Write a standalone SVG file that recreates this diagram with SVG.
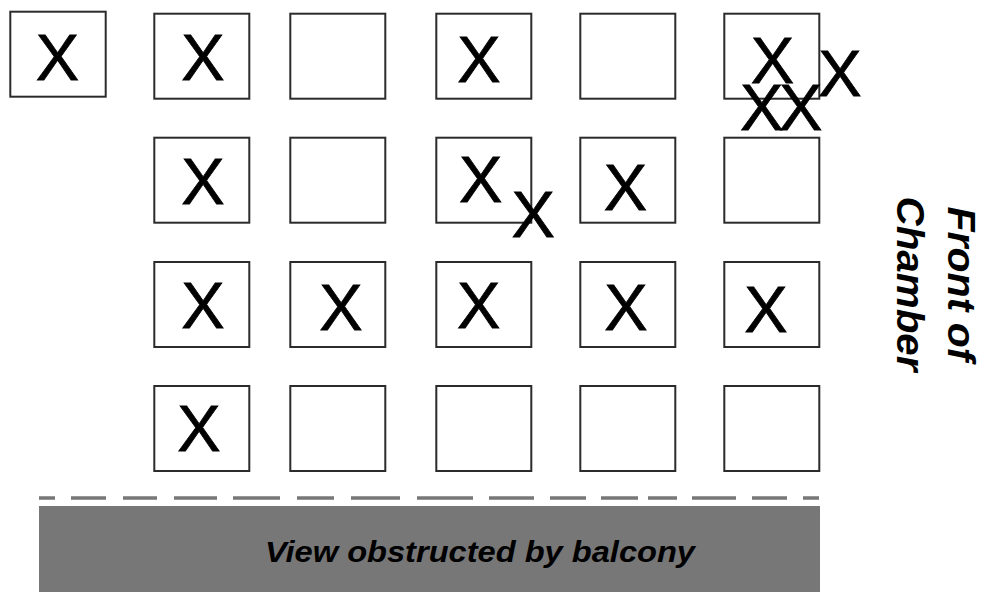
<svg xmlns="http://www.w3.org/2000/svg" width="982" height="592" viewBox="0 0 982 592">
<style>
.seat{fill:#fff;stroke:#2b2b2b;stroke-width:2}
.x{font-family:"Liberation Sans",Arial,sans-serif;font-size:65px;fill:#000;stroke:#000;stroke-width:0.8;text-anchor:middle}
.lbl{font-family:"Liberation Sans",Arial,sans-serif;font-weight:bold;font-style:italic;fill:#000;text-anchor:middle}
.dash{stroke:#777;stroke-width:3.5}
</style>
<rect width="982" height="592" fill="#fff"/>
<g id="seat-0"><rect class="seat" x="10.3" y="11.7" width="95.4" height="85"/><text class="x" x="57.5" y="80">X</text></g>
<g id="seat-r1c1"><rect class="seat" x="154.3" y="13.7" width="95" height="85"/><text class="x" x="203" y="80">X</text></g>
<g id="seat-r1c2"><rect class="seat" x="290.3" y="13.7" width="95" height="85"/></g>
<g id="seat-r1c3"><rect class="seat" x="436.3" y="13.7" width="95" height="85"/><text class="x" x="479" y="82">X</text></g>
<g id="seat-r1c4"><rect class="seat" x="580.3" y="13.7" width="95" height="85"/></g>
<g id="seat-r1c5"><rect class="seat" x="724.3" y="13.7" width="95" height="85"/><text class="x" x="772.5" y="83.3">X</text><text class="x" x="840" y="96">X</text><text class="x" x="761.7" y="130">X</text><text class="x" x="800.8" y="130">X</text></g>
<g id="seat-r2c1"><rect class="seat" x="154.3" y="137.7" width="95" height="85"/><text class="x" x="203" y="204">X</text></g>
<g id="seat-r2c2"><rect class="seat" x="290.3" y="137.7" width="95" height="85"/></g>
<g id="seat-r2c3"><rect class="seat" x="436.3" y="137.7" width="95" height="85"/><text class="x" x="480.8" y="201.7">X</text><text class="x" x="533.3" y="237.3">X</text></g>
<g id="seat-r2c4"><rect class="seat" x="580.3" y="137.7" width="95" height="85"/><text class="x" x="625.5" y="210">X</text></g>
<g id="seat-r2c5"><rect class="seat" x="724.3" y="137.7" width="95" height="85"/></g>
<g id="seat-r3c1"><rect class="seat" x="154.3" y="262" width="95" height="85"/><text class="x" x="203" y="328">X</text></g>
<g id="seat-r3c2"><rect class="seat" x="290.3" y="262" width="95" height="85"/><text class="x" x="341" y="330">X</text></g>
<g id="seat-r3c3"><rect class="seat" x="436.3" y="262" width="95" height="85"/><text class="x" x="478.8" y="328">X</text></g>
<g id="seat-r3c4"><rect class="seat" x="580.3" y="262" width="95" height="85"/><text class="x" x="626" y="330">X</text></g>
<g id="seat-r3c5"><rect class="seat" x="724.3" y="262" width="95" height="85"/><text class="x" x="766" y="331.7">X</text></g>
<g id="seat-r4c1"><rect class="seat" x="154.3" y="386" width="95" height="85"/><text class="x" x="199" y="451">X</text></g>
<g id="seat-r4c2"><rect class="seat" x="290.3" y="386" width="95" height="85"/></g>
<g id="seat-r4c3"><rect class="seat" x="436.3" y="386" width="95" height="85"/></g>
<g id="seat-r4c4"><rect class="seat" x="580.3" y="386" width="95" height="85"/></g>
<g id="seat-r4c5"><rect class="seat" x="724.3" y="386" width="95" height="85"/></g>
<g id="front-label" transform="translate(948,284) rotate(90)">
<text class="lbl" x="0" y="0" font-size="38" textLength="155" lengthAdjust="spacingAndGlyphs">Front of</text>
<text class="lbl" x="0" y="51" font-size="38" textLength="175" lengthAdjust="spacingAndGlyphs">Chamber</text>
</g>
<g id="connectors">
<path class="dash" d="M39 498H55M71 498H106M123 498H157M174 498H217M233 498H280M297 498H334M351 498H400M417 498H473M489 498H534M550 498H586M601 498H638M648 498H677M692 498H736M752 498H787M803 498H819"/>
</g>
<g id="balcony">
<rect x="39" y="506" width="781" height="86" fill="#777"/>
<text class="lbl" x="480" y="562" font-size="29" textLength="430" lengthAdjust="spacingAndGlyphs">View obstructed by balcony</text>
</g>
</svg>
